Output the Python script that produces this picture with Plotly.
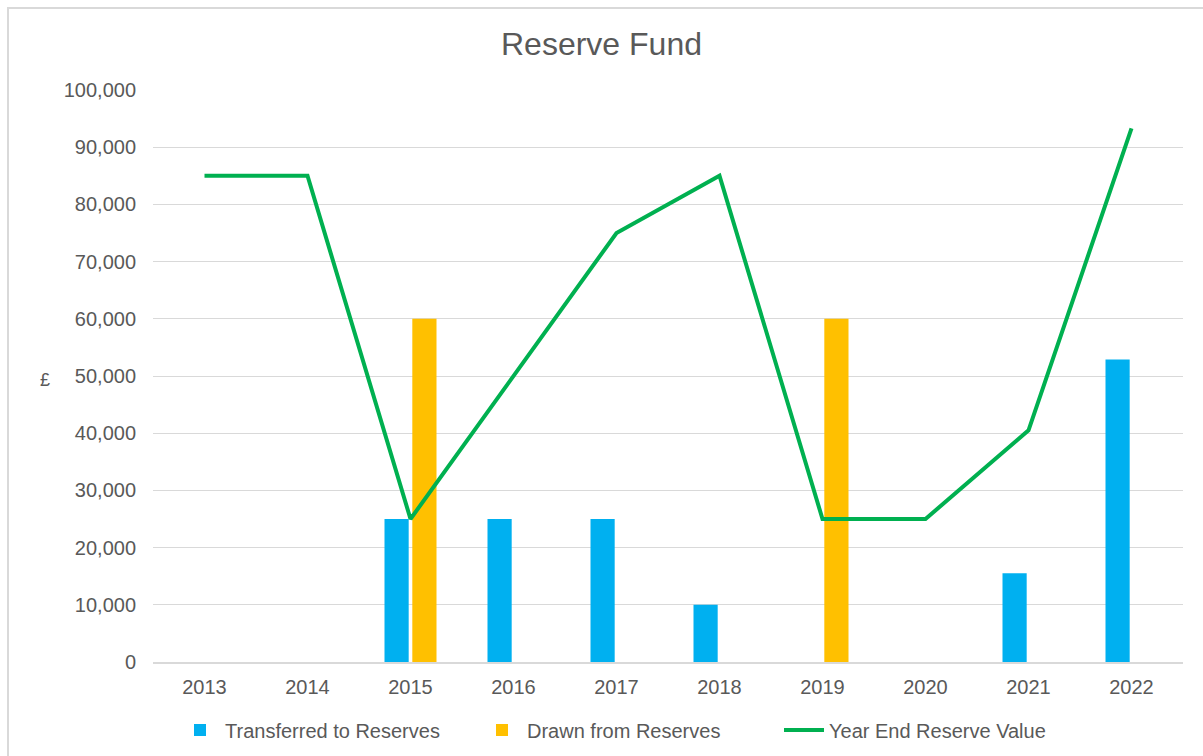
import plotly.graph_objects as go

years = ["2013", "2014", "2015", "2016", "2017", "2018", "2019", "2020", "2021", "2022"]
transferred = [None, None, 25000, 25000, 25000, 10000, None, None, 15500, 52900]
drawn = [None, None, 60000, None, None, None, 60000, None, None, None]
year_end = [85000, 85000, 25000, 50000, 75000, 85000, 25000, 25000, 40500, 93300]
y_ticks = list(range(0, 100001, 10000))

W, H = 1203, 756
L, R, T, B = 153, 20, 90, 94
pw, ph = W - L - R, H - T - B

fig = go.Figure()
fig.add_trace(go.Bar(x=years, y=transferred, name="Transferred to Reserves",
                     marker=dict(color="#00B0F0", line=dict(width=0))))
fig.add_trace(go.Bar(x=years, y=drawn, name="Drawn from Reserves",
                     marker=dict(color="#FFC000", line=dict(width=0))))
fig.add_trace(go.Scatter(x=years, y=year_end, name="Year End Reserve Value", mode="lines",
                         line=dict(color="#00B050", width=4)))

font_family = "Liberation Sans, Arial, sans-serif"
fig.update_layout(
    width=W, height=H,
    margin=dict(l=L, r=R, t=T, b=B, autoexpand=False),
    paper_bgcolor="white", plot_bgcolor="white",
    barmode="group", bargap=0.46, bargroupgap=0.13,
    title=dict(text="Reserve Fund", x=0.5, xanchor="center", y=1 - 44 / H, yanchor="middle",
               font=dict(family=font_family, size=32, color="#595959")),
    font=dict(family=font_family, color="#595959", size=20),
    showlegend=True,
    legend=dict(orientation="h", xref="container", yref="container",
                x=175 / W, xanchor="left", y=1 - 730 / H, yanchor="middle",
                font=dict(size=20, color="#595959"), traceorder="normal",
                itemwidth=40, entrywidth=247, bgcolor="rgba(0,0,0,0)"),
    xaxis=dict(type="category", showgrid=False, showline=True, linecolor="#D9D9D9", linewidth=1.5,
               ticks="", tickfont=dict(size=20, color="#595959"), ticklabelstandoff=6,
               automargin=False),
    yaxis=dict(range=[0, 100000], tickvals=y_ticks, tickformat=",", showgrid=True,
               gridcolor="#D9D9D9", gridwidth=1.2, zeroline=False, showline=False,
               tickfont=dict(size=20, color="#595959"), ticklabelstandoff=16,
               automargin=False),
    annotations=[dict(text="£", xref="paper", yref="paper", x=(45 - L) / pw, y=(662 - 380) / ph,
                      showarrow=False, font=dict(size=18, color="#595959"),
                      xanchor="center", yanchor="middle")],
    shapes=[dict(type="rect", xref="paper", yref="paper",
                 x0=(8 - L) / pw, x1=(1215 - L) / pw,
                 y0=-(770 - 662) / ph, y1=1 + (T - 8) / ph,
                 line=dict(color="#D9D9D9", width=2), fillcolor="rgba(0,0,0,0)", layer="below")],
)

fig.write_html("out.html", config={"displayModeBar": False},
               post_script="document.body.style.margin='0';document.body.style.overflow='hidden';")
